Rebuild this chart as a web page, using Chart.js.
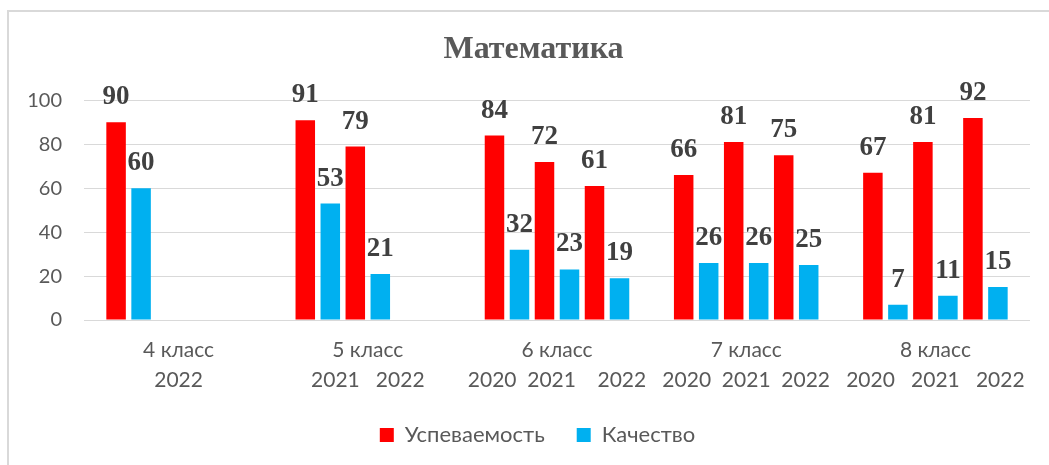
<!DOCTYPE html>
<html>
<head>
<meta charset="utf-8">
<script src="https://cdn.jsdelivr.net/npm/chart.js@4/dist/chart.umd.min.js"></script>
<style>
  body { margin: 0; background: #fff; }
  #wrap {
    position: absolute;
    left: 7px;
    top: 10px;
    width: 1040px;
    height: 453px;
    border-left: 2px solid #d9d9d9;
    border-top: 2px solid #d9d9d9;
  }
</style>
</head>
<body>
<div id="wrap"><canvas id="chart" width="1040" height="453"></canvas></div>
<script>
const classes = ["4 класс", "5 класс", "6 класс", "7 класс", "8 класс"];
// second row of the category axis (years), spaced the way they sit under each class
const yearRows = [
  "2022",
  "2021   2022",
  "2020  2021    2022",
  "2020  2021  2022",
  "2020   2021   2022",
];

// each class has up to three year slots: red/blue pair per slot
const uspevFirst = [90, 91, 84, 66, 67];
const kachFirst = [60, 53, 32, 26, 7];
const uspevSecond = [null, 79, 72, 81, 81];
const kachSecond = [null, 21, 23, 26, 11];
const uspevThird = [null, null, 61, 75, 92];
const kachThird = [null, null, 19, 25, 15];

const RED = "#ff0000";
const BLUE = "#00b0f0";
const tickFont = { family: "Lato", size: 21, lineHeight: 1.4 };

function bars(label, values, color) {
  return {
    label: label,
    data: values,
    backgroundColor: color,
    borderColor: color,
    categoryPercentage: 0.793,
    barPercentage: 0.78,
  };
}

// value labels above every bar
const valueLabels = {
  id: "valueLabels",
  afterDatasetsDraw(chart) {
    const ctx = chart.ctx;
    ctx.save();
    ctx.font = "bold 27px 'Liberation Serif', 'Times New Roman', serif";
    ctx.fillStyle = "#404040";
    ctx.textAlign = "center";
    ctx.textBaseline = "alphabetic";
    chart.data.datasets.forEach((ds, i) => {
      const meta = chart.getDatasetMeta(i);
      meta.data.forEach((bar, j) => {
        const v = ds.data[j];
        if (v === null || v === undefined) return;
        ctx.fillText(String(v), bar.x, bar.y - 18);
      });
    });
    ctx.restore();
  },
};

// nudge title and legend a little right, like in the original sheet
const nudge = {
  id: "nudge",
  afterLayout(chart) {
    if (chart.titleBlock) chart.titleBlock.left += 10;
    if (chart.legend) chart.legend.left += 18;
  },
};

new Chart(document.getElementById("chart"), {
  type: "bar",
  data: {
    labels: classes.map((c, i) => [c, yearRows[i]]),
    datasets: [
      bars("Успеваемость", uspevFirst, RED),
      bars("Качество", kachFirst, BLUE),
      bars("Успеваемость", uspevSecond, RED),
      bars("Качество", kachSecond, BLUE),
      bars("Успеваемость", uspevThird, RED),
      bars("Качество", kachThird, BLUE),
    ],
  },
  options: {
    responsive: false,
    animation: false,
    layout: { padding: { left: 18, right: 19, top: 0, bottom: 9 } },
    scales: {
      x: {
        grid: { display: false, drawTicks: false },
        border: { display: false },
        ticks: {
          color: "#595959",
          font: tickFont,
          padding: 16,
          autoSkip: false,
          maxRotation: 0,
        },
        afterFit: (scale) => {
          scale.height = 72;
        },
      },
      y: {
        min: 0,
        max: 100,
        ticks: {
          stepSize: 20,
          color: "#595959",
          font: { family: "Lato", size: 20 },
          padding: 22,
        },
        grid: { color: "#d9d9d9", drawTicks: false },
        border: { display: false },
        afterFit: (scale) => {
          scale.width = 57;
        },
      },
    },
    plugins: {
      title: {
        display: true,
        text: "Математика",
        color: "#595959",
        font: { family: "Liberation Serif", size: 32, weight: "bold", lineHeight: 1.2 },
        padding: { top: 19, bottom: 31 },
      },
      legend: {
        position: "bottom",
        labels: {
          filter: (item) => item.datasetIndex < 2,
          color: "#595959",
          font: { family: "Lato", size: 22 },
          boxWidth: 14,
          boxHeight: 14,
          padding: 32,
        },
      },
      tooltip: { enabled: false },
    },
  },
  plugins: [valueLabels, nudge],
});
</script>
</body>
</html>
